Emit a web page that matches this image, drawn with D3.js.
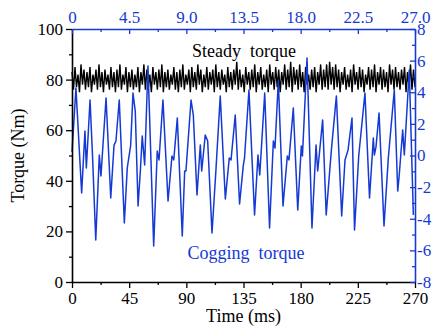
<!DOCTYPE html>
<html>
<head>
<meta charset="utf-8" />
<title>Steady and cogging torque</title>
<script src="https://d3js.org/d3.v7.min.js"></script>
<style>
  body { margin: 0; background: #ffffff; }
  svg text { font-family: "Liberation Serif", "Times New Roman", serif; }
</style>
</head>
<body>
<svg id="chart"></svg>
<script>
// tick values for the four axes
var timeTicks = [0, 45, 90, 135, 180, 225, 270];
var angleTicks = [0, 4.5, 9, 13.5, 18, 22.5, 27];
var torqueTicks = [0, 20, 40, 60, 80, 100];
var cogTicks = [-8, -6, -4, -2, 0, 2, 4, 6, 8];

// steady torque (Nm), sampled evenly over 0..270 ms
var steadyStep = 270 / 229;
var steadyTorque = [
  83,76,85,77,82,75,86,78,84,76,83,77,85,75,82,78,84,76,86,77,
  83,75,84,78,82,76,85,77,83,75,84,77,86,76,82,78,85,75,83,77,
  84,76,82,77,85,75,83,78,86,76,84,77,82,75,85,78,83,76,84,77,
  86,75,83,77,84,76,82,78,85,76,83,75,84,77,86,76,82,78,84,75,
  85,77,83,76,86,78,84,75,82,77,85,76,83,78,84,75,86,77,83,76,
  84,78,82,75,85,77,83,76,84,78,87,76,84,77,82,75,85,78,83,76,
  84,77,86,75,83,78,85,76,82,77,84,75,86,78,83,76,85,77,84,75,
  83,78,86,76,84,77,87,75,85,78,84,76,86,77,83,75,85,78,82,76,
  84,77,85,75,83,78,86,76,84,77,86,76,87,78,85,76,86,77,84,75,
  83,78,85,76,82,77,84,75,86,78,83,76,85,77,84,75,82,78,85,76,
  84,77,86,75,83,78,85,76,84,77,83,75,86,78,84,76,85,77,83,76,
  84,78,85,75,83,77,86,76,84,77
];

// cogging torque (Nm) against the top axis
var cogAngle = [
  0, 0.31, 0.76, 1.02, 1.13, 1.42, 1.60, 1.87, 2.15, 2.28,
  2.68, 3.05, 3.31, 3.46, 3.72, 4.12, 4.35, 4.62, 4.80, 4.98,
  5.20, 5.38, 5.53, 5.72, 5.98, 6.43, 6.71, 6.85, 7.16, 7.56,
  7.87, 8.01, 8.29, 8.68, 8.87, 8.97, 9.37, 9.55, 9.84, 10.10,
  10.21, 10.49, 10.68, 11.02, 11.34, 11.67, 12.07, 12.38, 12.52, 12.85,
  13.19, 13.48, 13.58, 13.93, 14.37, 14.64, 14.78, 15.17, 15.55, 15.85,
  15.98, 16.24, 16.61, 16.95, 17.08, 17.42, 17.77, 18.05, 18.14, 18.50,
  18.89, 19.21, 19.34, 19.73, 20.01, 20.41, 20.81, 21.23, 21.49, 21.73,
  22.04, 22.24, 22.57, 23.06, 23.42, 23.72, 23.80, 23.93, 24.17, 24.56,
  24.90, 25.37, 25.64, 25.76, 26.03, 26.16, 26.55, 26.87
];
var cogTorque = [
  0.22, 4.27, -2.37, 1.55, -0.79, 3.51, 0.28, -5.34, 0.03, -1.30,
  3.64, -2.69, 0.66, 0.92, 3.51, -4.27, -0.79, 0.66, 3.95, 2.81,
  -3.19, -0.98, 1.23, -0.60, 5.66, -5.72, 0.28, -0.28, 3.51, -2.88,
  -0.03, -0.28, 2.37, -5.09, -0.98, -0.98, 3.51, 2.56, -2.50, 0.66,
  -0.98, 1.30, 0.92, -4.90, -0.79, 3.76, -2.75, -0.16, -0.28, 2.56,
  -3.07, -0.66, -0.16, 4.14, -3.76, 0.03, -1.23, 3.95, -4.58, 0.92,
  0.47, 4.71, -3.19, -0.03, -0.28, 3.00, -3.45, 0.60, -0.03, 6.17,
  -4.58, 0.66, -0.98, 2.25, -3.76, 0.28, 3.76, -3.83, -0.28, 0.35,
  2.37, -4.71, -0.03, 3.95, -2.69, 1.11, 0.03, 0.54, 2.69, -4.46,
  -0.16, 4.14, -2.25, -1.23, 1.61, 0.03, 5.41, -3.76
];

var width = 432;
var height = 331;
var margin = { top: 29, right: 17, bottom: 49, left: 72 };
var blue = "#1539d4";
var tickFont = "17px";

var svg = d3.select("#chart")
  .attr("width", width)
  .attr("height", height);

var x = d3.scaleLinear().domain([0, 270]).range([margin.left, width - margin.right]);
var xTop = d3.scaleLinear().domain([0, 27]).range([margin.left, width - margin.right]);
var y = d3.scaleLinear().domain([0, 100]).range([height - margin.bottom, margin.top]);
var yRight = d3.scaleLinear().domain([-8, 8]).range([height - margin.bottom, margin.top]);

// minor ticks sit half way between the major ones
function halves(ticks) {
  var out = [];
  for (var i = 0; i < ticks.length - 1; i++) out.push((ticks[i] + ticks[i + 1]) / 2);
  return out;
}

function styleAxis(g, color) {
  g.select(".domain").attr("stroke", color).attr("stroke-width", 1.6);
  g.selectAll(".tick line").attr("stroke", color).attr("stroke-width", 1.3);
  g.selectAll(".tick text").attr("fill", color).attr("font-size", tickFont)
    .attr("font-family", "Liberation Serif, Times New Roman, serif");
}

// series
var steadyLine = d3.line()
  .x(function(d, i) { return x(i * steadyStep); })
  .y(function(d) { return y(d); });

svg.append("path")
  .datum(steadyTorque)
  .attr("fill", "none")
  .attr("stroke", "#000")
  .attr("stroke-width", 1.4)
  .attr("d", steadyLine);

var cogLine = d3.line()
  .x(function(d) { return xTop(d[0]); })
  .y(function(d) { return yRight(d[1]); });

svg.append("path")
  .datum(d3.zip(cogAngle, cogTorque))
  .attr("fill", "none")
  .attr("stroke", blue)
  .attr("stroke-width", 1.5)
  .attr("stroke-linejoin", "round")
  .attr("d", cogLine);

// bottom axis
svg.append("g")
  .attr("transform", "translate(0," + (height - margin.bottom) + ")")
  .call(d3.axisBottom(x).tickValues(halves(timeTicks)).tickSize(3).tickFormat(""))
  .call(function(g) { g.select(".domain").remove(); styleAxis(g, "#000"); });
svg.append("g")
  .attr("transform", "translate(0," + (height - margin.bottom) + ")")
  .call(d3.axisBottom(x).tickValues(timeTicks).tickSizeInner(6).tickSizeOuter(0).tickPadding(4))
  .call(function(g) { styleAxis(g, "#000"); });

// left axis
svg.append("g")
  .attr("transform", "translate(" + margin.left + ",0)")
  .call(d3.axisLeft(y).tickValues(halves(torqueTicks)).tickSize(3).tickFormat(""))
  .call(function(g) { g.select(".domain").remove(); styleAxis(g, "#000"); });
svg.append("g")
  .attr("transform", "translate(" + margin.left + ",0)")
  .call(d3.axisLeft(y).tickValues(torqueTicks).tickSizeInner(6).tickSizeOuter(0).tickPadding(3))
  .call(function(g) { styleAxis(g, "#000"); });

// top axis (blue, ticks inward)
svg.append("g")
  .attr("transform", "translate(0," + margin.top + ")")
  .call(d3.axisTop(xTop).tickValues(halves(angleTicks)).tickSize(-3).tickFormat(""))
  .call(function(g) { g.select(".domain").remove(); styleAxis(g, blue); });
svg.append("g")
  .attr("transform", "translate(0," + margin.top + ")")
  .call(d3.axisTop(xTop).tickValues(angleTicks).tickSizeInner(-5).tickSizeOuter(0).tickPadding(6)
    .tickFormat(function(d) { return d === 0 ? "0" : d.toFixed(1); }))
  .call(function(g) { styleAxis(g, blue); });

// right axis (blue, ticks inward)
var cogMinor = d3.range(-7, 8, 2);
svg.append("g")
  .attr("transform", "translate(" + (width - margin.right) + ",0)")
  .call(d3.axisRight(yRight).tickValues(cogMinor).tickSize(-3).tickFormat(""))
  .call(function(g) { g.select(".domain").remove(); styleAxis(g, blue); });
svg.append("g")
  .attr("transform", "translate(" + (width - margin.right) + ",0)")
  .call(d3.axisRight(yRight).tickValues(cogTicks).tickSizeInner(-5).tickSizeOuter(0).tickPadding(2)
    .tickFormat(function(d) { return d < 0 ? "-" + Math.abs(d) : String(d); }))
  .call(function(g) { styleAxis(g, blue); });

// axis titles
svg.append("text")
  .attr("x", (margin.left + width - margin.right) / 2)
  .attr("y", 322)
  .attr("text-anchor", "middle")
  .attr("font-size", "18px")
  .text("Time (ms)");

svg.append("text")
  .attr("transform", "translate(24," + ((margin.top + height - margin.bottom) / 2) + ") rotate(-90)")
  .attr("text-anchor", "middle")
  .attr("font-size", "18px")
  .text("Torque (Nm)");

// series labels
svg.append("text")
  .attr("x", 244)
  .attr("y", 57)
  .attr("text-anchor", "middle")
  .attr("font-size", "18px")
  .style("white-space", "pre")
  .text("Steady  torque");

svg.append("text")
  .attr("x", 246)
  .attr("y", 259)
  .attr("text-anchor", "middle")
  .attr("font-size", "18px")
  .attr("fill", blue)
  .style("white-space", "pre")
  .text("Cogging  torque");
</script>
</body>
</html>
